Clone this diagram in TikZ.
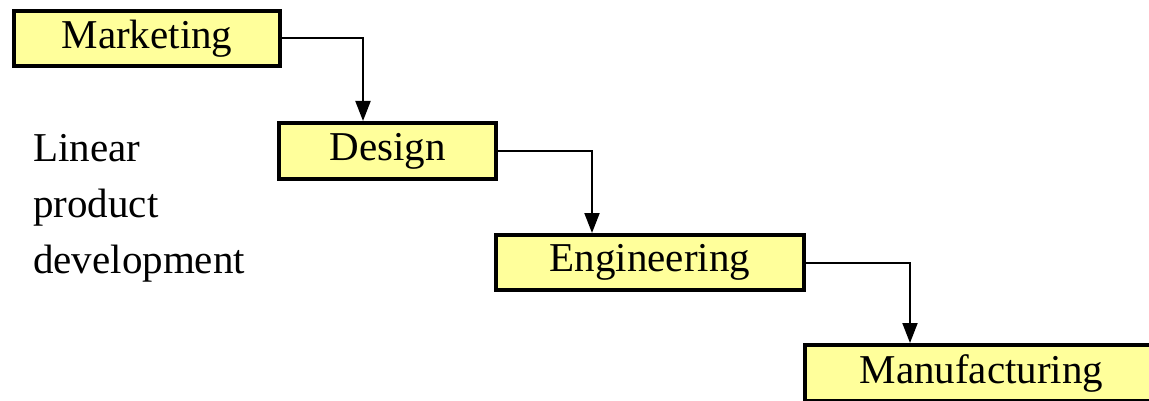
\documentclass[tikz,border=0pt]{standalone}
\usepackage{fontspec}
\setmainfont{Liberation Serif}
\usetikzlibrary{arrows.meta,calc}
\definecolor{boxfill}{RGB}{255,255,155}
\begin{document}
\begin{tikzpicture}[x=1pt,y=-1pt,
  stage/.style={draw=black, fill=boxfill, line width=4pt, rectangle,
    inner sep=0pt, font=\fontsize{41}{49}\selectfont},
  flow/.style={line width=2pt, -{Triangle[width=15pt,length=20pt]}}]
  \useasboundingbox (0,0) rectangle (1149,401);
  \clip (0,0) rectangle (1149,401);
  \fill[white] (0,0) rectangle (1149,401);

  % process stages, stepping down to the right
  \node[stage, minimum width=266pt, minimum height=55pt] (mkt) at (147,38.5) {Marketing};
  \node[stage, minimum width=217pt, minimum height=56pt] (des) at (387.5,151) {Design};
  \node[stage, minimum width=308pt, minimum height=55pt] (eng) at (650,262.5) {Engineering};
  % the last stage runs off the right edge of the page
  \node[stage, minimum width=393pt, minimum height=56pt] (man) at (1001.5,373)
    {Manufacturing\hspace*{40pt}};

  % caption on the left
  \node[anchor=north west, inner sep=0pt, align=left,
        font=\fontsize{41}{56}\selectfont] (cap) at (33,134)
        {Linear\\product\\development};

  % hand-offs from one stage to the next
  \draw[flow] (mkt.east) -| ($(des.north west)+(86,0)$);
  \draw[flow] (des.east) -| ($(eng.north west)+(98,0)$);
  \draw[flow] (eng.east) -| ($(man.north west)+(107,0)$);
\end{tikzpicture}
\end{document}
